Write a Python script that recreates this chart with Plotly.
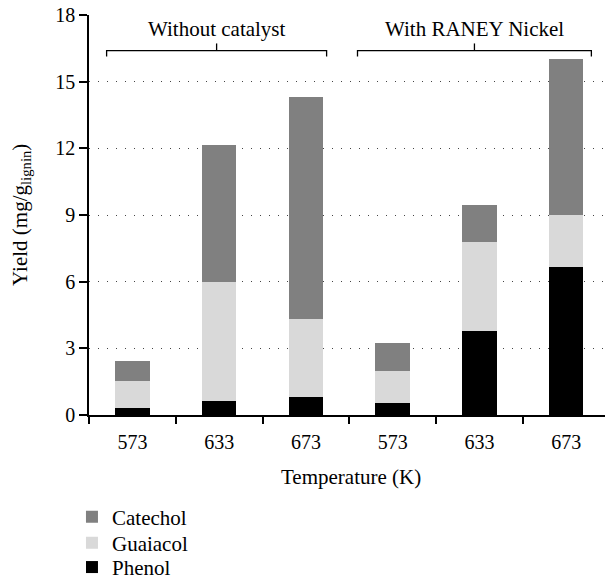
import plotly.graph_objects as go

temperatures = ["573", "633", "673", "573", "633", "673"]
groups = ["Without catalyst", "With RANEY Nickel"]
phenol = [0.30, 0.61, 0.83, 0.52, 3.76, 6.64]
guaiacol = [1.25, 5.36, 3.47, 1.48, 4.04, 2.34]
catechol = [0.90, 6.17, 10.03, 1.22, 1.63, 7.02]
y_ticks = [0, 3, 6, 9, 12, 15, 18]

FONT = "Liberation Serif, DejaVu Serif, serif"
xpos = list(range(len(temperatures)))

fig = go.Figure()
series = [("Phenol", phenol, "#000000", "legend3", -0.381),
          ("Guaiacol", guaiacol, "#d9d9d9", "legend2", -0.320),
          ("Catechol", catechol, "#808080", "legend", -0.255)]
legend_layout = {}
for name, vals, col, lg, ly in series:
    fig.add_trace(go.Bar(x=xpos, y=vals, name=name, width=0.4, legend=lg,
                         marker=dict(color=col, line=dict(width=0))))
    legend_layout[lg] = dict(x=-0.033, xanchor="left", y=ly, yanchor="middle",
                             font=dict(size=21), bgcolor="rgba(0,0,0,0)")

xr = [-0.5, 5.448]
fig.update_layout(
    width=605, height=579,
    margin=dict(l=89, r=0, t=15, b=164, autoexpand=False),
    barmode="stack",
    plot_bgcolor="white", paper_bgcolor="white",
    font=dict(family=FONT, size=20, color="black"),
    showlegend=True,
    xaxis=dict(range=xr, tickvals=xpos, ticktext=temperatures,
               ticks="outside", ticklen=8, tickcolor="rgba(0,0,0,0)",
               showline=True, linecolor="black", linewidth=1.5,
               showgrid=False, zeroline=False, fixedrange=True),
    xaxis2=dict(range=xr, overlaying="x", matches="x",
                tickvals=[i - 0.5 for i in xpos], ticks="outside", ticklen=8,
                tickcolor="black", tickwidth=1.5, showticklabels=False,
                showline=False, showgrid=False, zeroline=False),
    yaxis=dict(range=[0, 18], tickvals=y_ticks, ticks="outside", ticklen=8,
               tickcolor="black", tickwidth=1.5,
               showline=True, linecolor="black", linewidth=1.5,
               showgrid=True, gridcolor="#444", griddash="1px,8px", gridwidth=1,
               zeroline=False),
    **legend_layout,
)
# invisible trace to activate xaxis2 (boundary tick marks)
fig.add_trace(go.Scatter(x=[xr[0]], y=[0], xaxis="x2", mode="markers",
                         marker=dict(opacity=0), showlegend=False, hoverinfo="skip"))

fig.add_annotation(text="Yield (mg/g<sub>lignin</sub>)", xref="paper", yref="paper",
                   x=-0.132, y=0.5, textangle=-90, showarrow=False,
                   xanchor="center", yanchor="middle", font=dict(size=21))
fig.add_annotation(text="Temperature (K)", xref="paper", yref="paper",
                   x=0.508, y=-0.154, showarrow=False,
                   xanchor="center", yanchor="middle", font=dict(size=21))

brackets = [(-0.297, 2.239), (2.595, 5.291)]
for (x0, x1), label in zip(brackets, groups):
    xm = (x0 + x1) / 2
    fig.add_shape(type="path", xref="x", yref="y",
                  path=f"M{x0},16.13 L{x0},16.4 L{x1},16.4 L{x1},16.13",
                  line=dict(color="black", width=1.3))
    fig.add_shape(type="line", xref="x", yref="y", x0=xm, x1=xm, y0=16.4, y1=16.72,
                  line=dict(color="black", width=1.3))
    fig.add_annotation(text=label, x=xm, y=17.39, xref="x", yref="y",
                       showarrow=False, xanchor="center", yanchor="middle",
                       font=dict(size=21))

fig.write_html("out.html")
